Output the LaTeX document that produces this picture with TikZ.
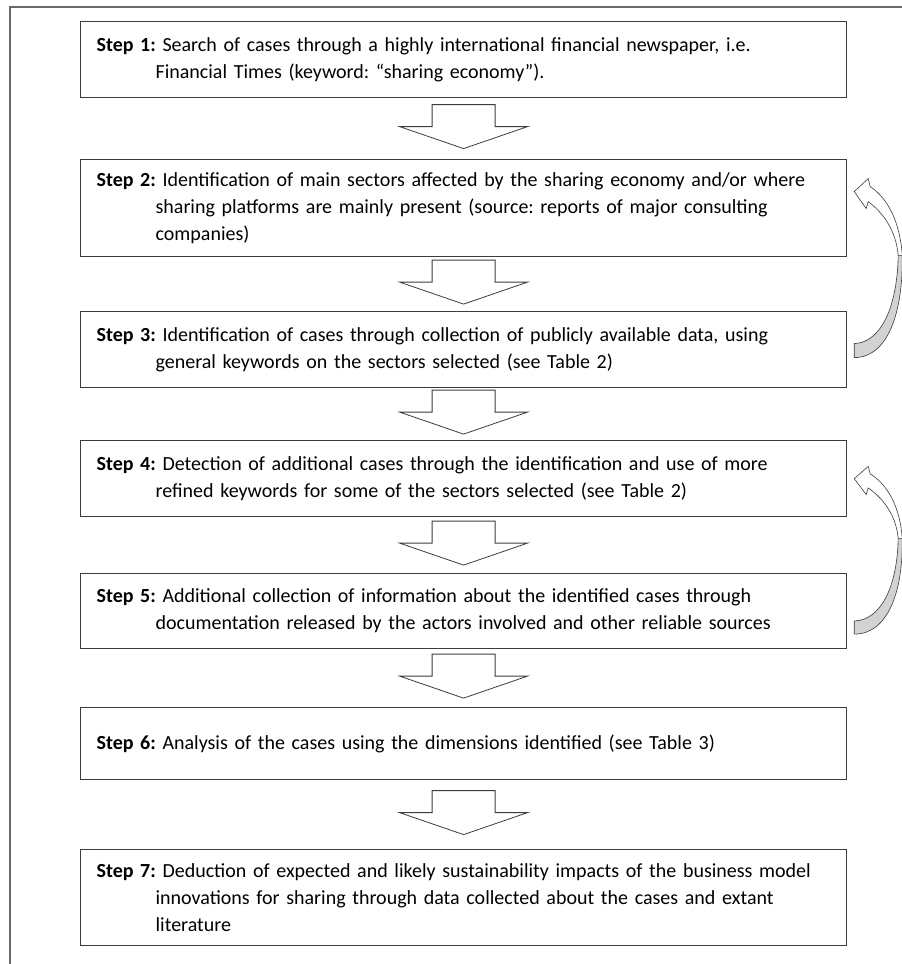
\documentclass[tikz,border=0pt]{standalone}
\usepackage{fontspec}
\setmainfont{Carlito}
\usetikzlibrary{calc}
\definecolor{boxgray}{HTML}{3C3C3C}
\definecolor{framegray}{HTML}{6A6A6A}
\definecolor{arrowgray}{HTML}{D2D2D2}
\newcommand{\contind}{\hspace*{59pt}}
\frenchspacing
\begin{document}
\begin{tikzpicture}[x=1pt,y=-1pt,
  stepbox/.style={draw=boxgray, line width=1.2pt, anchor=north west,
    text width=734pt, inner xsep=16pt, inner ysep=0pt, align=left,
    font=\fontsize{20}{27}\selectfont\frenchspacing},
  blockarrow/.pic={\draw[line width=0.8pt, draw=boxgray, fill=white]
    (-31.5,-22) -- (31.5,-22) -- (31.5,0) -- (64,0) -- (0,22) -- (-64,0) -- (-31.5,0) -- cycle;},
  curvarrow/.pic={
    \draw[draw=boxgray, line width=0.6pt, fill=arrowgray]
      (48,64) .. controls (49,120) and (34,166) .. (0,166) -- (0,152)
      .. controls (27,151) and (43,115) .. (44,64) -- cycle;
    \draw[draw=boxgray, line width=0.6pt, fill=white]
      (16,-5) .. controls (33,6) and (46,30) .. (48,64) -- (44,64)
      .. controls (42,40) and (30,22) .. (14,10) -- (12,17) -- (0,0) -- (14,-13) -- cycle;}
]
\useasboundingbox (0,0) rectangle (902,964);
\fill[white] (0,0) rectangle (902,964);
\draw[framegray, line width=1.3pt] (10,964) -- (10,7) -- (902,7);

\node[stepbox, minimum height=76pt] (s1) at (80,21)
  {\textbf{Step 1:} Search of cases through a highly international financial newspaper, i.e.\\
   \contind Financial Times (keyword: “sharing economy”).};
\node[stepbox, minimum height=97pt] (s2) at (80,159)
  {\textbf{Step 2:} Identification of main sectors affected by the sharing economy and/or where\\
   \contind sharing platforms are mainly present (source: reports of major consulting\\
   \contind companies)};
\node[stepbox, minimum height=76pt] (s3) at (80,311)
  {\textbf{Step 3:} Identification of cases through collection of publicly available data, using\\
   \contind general keywords on the sectors selected (see Table 2)};
\node[stepbox, minimum height=76pt] (s4) at (80,440)
  {\textbf{Step 4:} Detection of additional cases through the identification and use of more\\
   \contind refined keywords for some of the sectors selected (see Table 2)};
\node[stepbox, minimum height=75pt] (s5) at (80,573)
  {\textbf{Step 5:} Additional collection of information about the identified cases through\\
   \contind documentation released by the actors involved and other reliable sources};
\node[stepbox, minimum height=72pt] (s6) at (80,707)
  {\textbf{Step 6:} Analysis of the cases using the dimensions identified (see Table 3)};
\node[stepbox, minimum height=96pt] (s7) at (80,849)
  {\textbf{Step 7:} Deduction of expected and likely sustainability impacts of the business model\\
   \contind innovations for sharing through data collected about the cases and extant\\
   \contind literature};

\pic at ($(s1.south)!0.5!(s2.north)+(0,-2)$) {blockarrow};
\pic at ($(s2.south)!0.5!(s3.north)+(0,-2)$) {blockarrow};
\pic at ($(s3.south)!0.5!(s4.north)+(0,-2)$) {blockarrow};
\pic at ($(s4.south)!0.5!(s5.north)+(0,-2)$) {blockarrow};
\pic at ($(s5.south)!0.5!(s6.north)+(0,-2)$) {blockarrow};
\pic at ($(s6.south)!0.5!(s7.north)+(0,-2)$) {blockarrow};

\pic at ($(s2.east)+(7,-16.5)$) {curvarrow};
\pic[yscale=0.937] at ($(s4.east)+(7,0)$) {curvarrow};
\end{tikzpicture}
\end{document}
